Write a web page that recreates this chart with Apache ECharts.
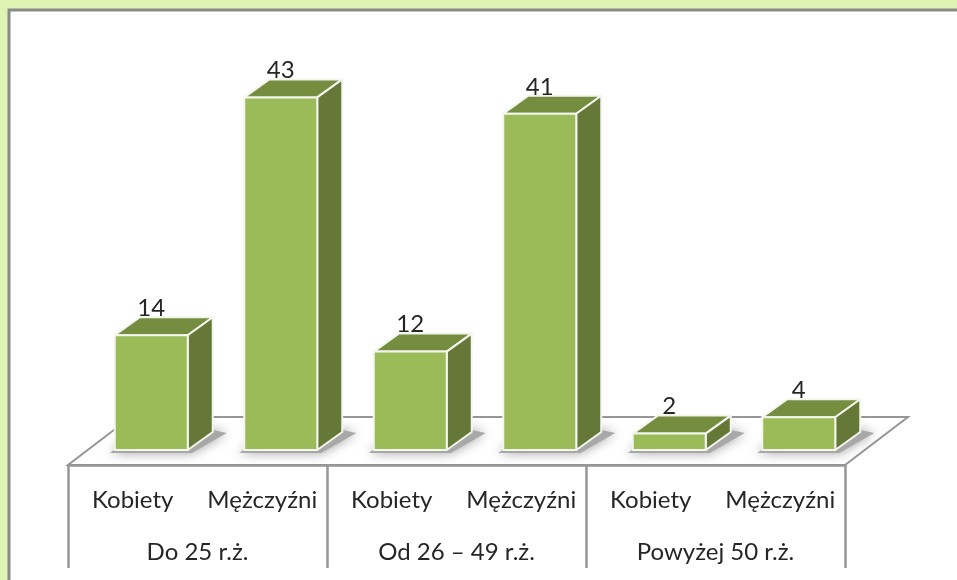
<!DOCTYPE html>
<html><head><meta charset="utf-8">
<style>html,body{margin:0;padding:0;background:#dff3b2}#c{width:957px;height:580px}</style>
<script src="https://cdn.jsdelivr.net/npm/echarts@6/dist/echarts.min.js"></script>
</head><body><div id="c"></div>
<script>
const categories = ['Kobiety','Mężczyźni','Kobiety','Mężczyźni','Kobiety','Mężczyźni'];
const groups = ['Do 25 r.ż.','Od 26 – 49 r.ż.','Powyżej 50 r.ż.'];
const values = [14,43,12,41,2,4];
const FRONT='#9bbb59',TOP='#758d3f',SIDE='#657837',LINE='#969696',TEXT='#262626';
const FONT='Lato';
const DX=25,DY=18,BAR=73;

function renderFloor(params,api){
  const cs=params.coordSys, base=cs.y+cs.height, l=cs.x, r=cs.x+cs.width;
  const fy=base+15, fl=l-18.5, fr=r-18.5, by=base-33;
  return {type:'group',silent:true,children:[
    {type:'polygon',shape:{points:[[fl,fy],[fr,fy],[fr+63,by],[fl+63,by]]},
     style:{fill:'#fff',stroke:LINE,lineWidth:2}}
  ]};
}
function renderBar(params,api){
  const c=api.coord([api.value(0),api.value(1)]), b=api.coord([api.value(0),0]);
  const x0=c[0]-BAR/2,x1=c[0]+BAR/2,t=c[1],y=b[1];
  const s={stroke:'#f4f6ee',lineWidth:2,lineJoin:'round'};
  return {type:'group',children:[
    {type:'polygon',silent:true,shape:{points:[[x0-5,y+3],[x1+4,y+3],[x1+DX+14,y-DY+1],[x1+DX,y-DY-2],[x0+10,y-8]]},
     style:{fill:'#a8a8a8',shadowBlur:12,shadowColor:'#a0a0a0'}},
    {type:'polygon',shape:{points:[[x0,t],[x0+DX,t-DY],[x1+DX,t-DY],[x1,t]]},style:{fill:TOP,...s}},
    {type:'polygon',shape:{points:[[x1,t],[x1+DX,t-DY],[x1+DX,y-DY],[x1,y]]},style:{fill:SIDE,...s}},
    {type:'rect',shape:{x:x0,y:t,width:BAR,height:y-t},style:{fill:FRONT,...s}},
    {type:'text',z2:10,style:{x:c[0],y:t-DY+3,text:String(api.value(1)),align:'center',verticalAlign:'bottom',
      font:'24px '+FONT,fill:TEXT}}
  ]};
}
const chart=echarts.init(document.getElementById('c'),null,{renderer:'canvas'});
chart.setOption({
  animation:false,
  backgroundColor:'#dff3b2',
  graphic:[{type:'rect',z:-10,silent:true,shape:{x:9,y:10,width:1000,height:640},
    style:{fill:'#fff',stroke:'#8a8a8a',lineWidth:3}}],
  grid:[
    {left:86.5,width:777,top:40,height:410},
    {left:68,width:777,top:465,height:0}
  ],
  xAxis:[
    {type:'category',gridIndex:0,data:categories,show:false},
    {type:'category',gridIndex:1,data:categories,position:'bottom',
     axisLine:{show:true,lineStyle:{color:LINE,width:2.5}},axisTick:{show:false},
     axisLabel:{interval:0,color:TEXT,fontFamily:FONT,fontSize:24,margin:23}},
    {type:'category',gridIndex:1,data:groups,position:'bottom',
     axisLine:{show:false},axisTick:{show:true,length:103,lineStyle:{color:LINE,width:2.5}},
     axisLabel:{interval:0,color:TEXT,fontFamily:FONT,fontSize:24,margin:75}}
  ],
  yAxis:[
    {type:'value',gridIndex:0,min:0,max:50,show:false},
    {type:'value',gridIndex:1,min:0,max:1,show:false}
  ],
  series:[
    {type:'custom',xAxisIndex:0,yAxisIndex:0,z:1,renderItem:renderFloor,data:[[0,0]],silent:true},
    {type:'custom',xAxisIndex:0,yAxisIndex:0,z:2,renderItem:renderBar,clip:false,
     encode:{x:0,y:1},data:values.map((v,i)=>[i,v])}
  ]
});
</script></body></html>
